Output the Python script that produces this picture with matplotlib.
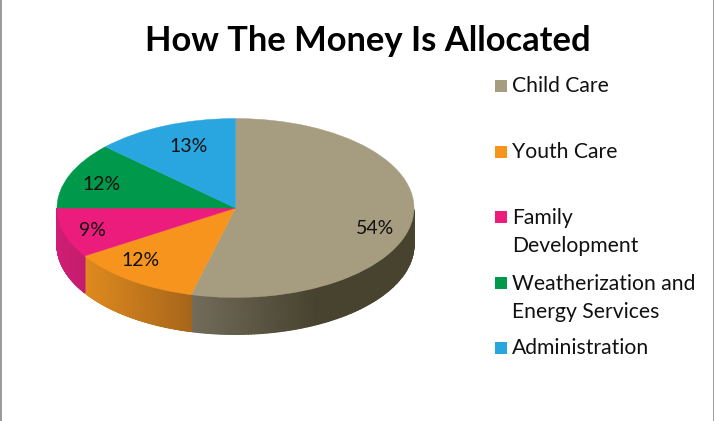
import numpy as np
import matplotlib
matplotlib.use("Agg")
import matplotlib.pyplot as plt
from matplotlib.patches import Wedge, Rectangle
from matplotlib.transforms import Affine2D
from matplotlib.colors import LinearSegmentedColormap

title = "How The Money Is Allocated"
categories = ["Child Care", "Youth Care", "Family\nDevelopment",
              "Weatherization and\nEnergy Services", "Administration"]
shares = [54, 12, 9, 12, 13]
colors = ["#A69C7F", "#F7941E", "#EC1C7C", "#00984A", "#29A6DF"]
side_left = ["#736C5A", "#E08A1E", "#CE1F73", "#00984A", "#29A6DF"]
side_right = ["#47432F", "#A8661A", "#C41C6E", "#00984A", "#29A6DF"]

W, H = 714, 421
CX, CY, RX, RY, DEPTH = 235.5, 208, 178.5, 89.5, 37
label_xy = [(375, 229), (141, 261), (92, 231), (102, 185), (189, 147)]
legend_y = [86, 152, 217, 283, 348]

plt.rcParams["font.family"] = ["Lato", "DejaVu Sans"]
fig = plt.figure(figsize=(W / 100, H / 100), dpi=100, facecolor="white")
ax = fig.add_axes([0, 0, 1, 1])
ax.set_xlim(0, W)
ax.set_ylim(H, 0)
ax.axis("off")

# slice angles, clockwise from 12 o'clock (screen coordinates, y pointing down)
ends = np.cumsum(shares) / sum(shares) * 360
starts = np.r_[0, ends[:-1]]
squash = Affine2D().scale(1, RY / RX).translate(CX, CY) + ax.transData

for i, (a0, a1) in enumerate(zip(starts, ends)):
    # side wall: only the front half of the ellipse is visible
    t = np.radians(np.linspace(a0, a1, 200) - 90)
    keep = np.sin(t) >= 0
    if keep.any():
        x = CX + RX * np.cos(t[keep])
        y = CY + RY * np.sin(t[keep])
        X = np.vstack([x, x])
        Y = np.vstack([y, y + DEPTH])
        lo, hi = x.min(), x.max()
        span = min(hi - lo, 125)
        C = np.clip((X - lo) / span, 0, 1)
        cmap = LinearSegmentedColormap.from_list(f"s{i}", [side_left[i], side_right[i]])
        ax.pcolormesh(X, Y, C, cmap=cmap, shading="gouraud", vmin=0, vmax=1, zorder=1)
    # top face
    ax.add_patch(Wedge((0, 0), RX, a0 - 90, a1 - 90, facecolor=colors[i],
                       edgecolor=colors[i], lw=0.3, transform=squash, zorder=2))

for v, (x, y) in zip(shares, label_xy):
    ax.text(x, y, f"{v}%", ha="center", va="center", fontsize=14, color="#111111", zorder=3)

for name, col, y in zip(categories, colors, legend_y):
    ax.add_patch(Rectangle((495, y - 6), 12, 12, facecolor=col, edgecolor="none"))
    ax.text(512, y - 9.5, name, ha="left", va="top", fontsize=15.2, color="#111111",
            linespacing=1.5)

ax.text(368, 41, title, ha="center", va="center", fontsize=24.8, fontweight="bold", color="black")

for xb in (0.5, W - 0.5):
    ax.plot([xb, xb], [0, H], color="#999999", lw=1.4)

fig.savefig("out.png", dpi=100, facecolor="white")
